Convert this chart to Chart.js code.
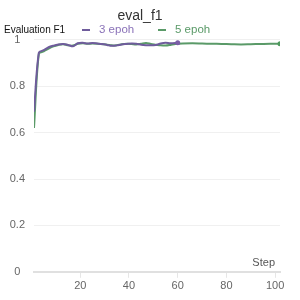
<!DOCTYPE html>
<html>
<head>
<meta charset="utf-8">
<script src="https://cdn.jsdelivr.net/npm/chart.js@4"></script>
<style>
  html, body { margin: 0; padding: 0; background: #fff; }
  #wrap { position: relative; width: 300px; height: 300px; }
</style>
</head>
<body>
<div id="wrap"><canvas id="f1Chart" width="300" height="300"></canvas></div>
<script>
// steps and eval_f1 values
const steps3 = [1, 3, 5, 7, 9, 11, 13, 15, 17, 19, 21, 23, 25, 27, 29, 31, 33, 35, 37, 39, 41, 43, 45, 47, 49, 51, 53, 55, 57, 60];
const f1_3 = [0.69, 0.945, 0.955, 0.968, 0.975, 0.98, 0.982, 0.978, 0.972, 0.985, 0.987, 0.984, 0.986, 0.984, 0.982, 0.978, 0.974, 0.976, 0.98, 0.982, 0.984, 0.983, 0.979, 0.977, 0.976, 0.978, 0.984, 0.987, 0.985, 0.987];

const steps5 = [1, 3, 5, 7, 9, 11, 13, 15, 17, 19, 21, 23, 25, 27, 29, 31, 33, 35, 37, 39, 41, 43, 45, 47, 49, 51, 53, 55, 57, 59, 62, 66, 70, 74, 78, 82, 86, 90, 94, 98, 102];
const f1_5 = [0.62, 0.94, 0.95, 0.962, 0.972, 0.978, 0.981, 0.976, 0.975, 0.983, 0.985, 0.983, 0.984, 0.983, 0.981, 0.979, 0.976, 0.977, 0.981, 0.983, 0.982, 0.98, 0.983, 0.986, 0.982, 0.979, 0.976, 0.975, 0.978, 0.982, 0.984, 0.985, 0.984, 0.983, 0.982, 0.981, 0.98, 0.981, 0.982, 0.983, 0.983];

const xTicks = [20, 40, 60, 80, 100];
const yTicks = [0, 0.2, 0.4, 0.6, 0.8, 1];

const FONT = '"Liberation Sans", Arial, sans-serif';

function toPoints(xs, ys) {
  return xs.map(function(x, i) { return { x: x, y: ys[i] }; });
}
function lastDot(n) {
  return Array.from({ length: n }, function(_, i) { return i === n - 1 ? 2.5 : 0; });
}

// header row (y label + legend) and the "Step" label above the x axis
const extraText = {
  id: 'extraText',
  afterDraw(chart) {
    const c = chart.ctx;
    const area = chart.chartArea;
    c.save();
    c.textBaseline = 'middle';
    c.textAlign = 'left';
    c.font = '10px ' + FONT;
    c.fillStyle = '#111';
    c.fillText('Evaluation F1', 4, 30);

    const legendX = [82, 158];
    chart.data.datasets.forEach(function(ds, i) {
      const x = legendX[i];
      c.strokeStyle = ds.borderColor;
      c.lineWidth = 2;
      c.beginPath();
      c.moveTo(x, 30);
      c.lineTo(x + 8, 30);
      c.stroke();
      c.font = '11.5px ' + FONT;
      c.fillStyle = ds.labelColor;
      c.fillText(ds.label, x + 17, 30);
    });

    c.font = '11px ' + FONT;
    c.fillStyle = '#555';
    c.textAlign = 'right';
    c.fillText('Step', area.right - 5, area.bottom - 9);
    c.restore();
  }
};

const ctx = document.getElementById('f1Chart').getContext('2d');
const f1Chart = new Chart(ctx, {
  type: 'line',
  data: {
    datasets: [{
      label: '3 epoh',
      labelColor: '#8a72b8',
      data: toPoints(steps3, f1_3),
      borderColor: '#6f5c9c',
      backgroundColor: '#7b5ea7',
      borderWidth: 2,
      pointRadius: lastDot(steps3.length),
      pointBorderWidth: 0,
      tension: 0.3,
      order: 1
    },
    {
      label: '5 epoh',
      labelColor: '#5a9a68',
      data: toPoints(steps5, f1_5),
      borderColor: '#5a9a68',
      backgroundColor: '#4f9a5e',
      borderWidth: 2,
      pointRadius: lastDot(steps5.length),
      pointBorderWidth: 0,
      tension: 0.3,
      order: 2
    }]
  },
  options: {
    responsive: false,
    animation: false,
    layout: { padding: { left: 0, right: 20, top: 0, bottom: 5 } },
    scales: {
      x: {
        type: 'linear',
        min: 1,
        max: 102,
        afterBuildTicks: function(axis) {
          axis.ticks = xTicks.map(function(v) { return { value: v }; });
        },
        grid: { drawOnChartArea: false, color: '#e6e6e6', tickLength: 6 },
        border: { color: '#e0e0e0', width: 2 },
        ticks: { color: '#666', font: { size: 11, family: FONT }, maxRotation: 0, padding: 2 }
      },
      y: {
        min: 0,
        max: 1,
        afterBuildTicks: function(axis) {
          axis.ticks = yTicks.map(function(v) { return { value: v }; });
        },
        afterFit: function(axis) { axis.width = 34; },
        grid: { color: '#f0f0f0', drawTicks: false },
        border: { display: false },
        ticks: {
          color: '#666',
          crossAlign: 'center',
          padding: 9,
          font: { size: 11, family: FONT },
          callback: function(value) { return String(Math.round(value * 10) / 10); }
        }
      }
    },
    plugins: {
      title: {
        display: true,
        text: 'eval_f1',
        color: '#333',
        font: { size: 14, weight: 'normal', family: FONT },
        padding: { top: 8, bottom: 15 }
      },
      legend: { display: false },
      tooltip: { enabled: false }
    }
  },
  plugins: [extraText]
});
</script>
</body>
</html>
